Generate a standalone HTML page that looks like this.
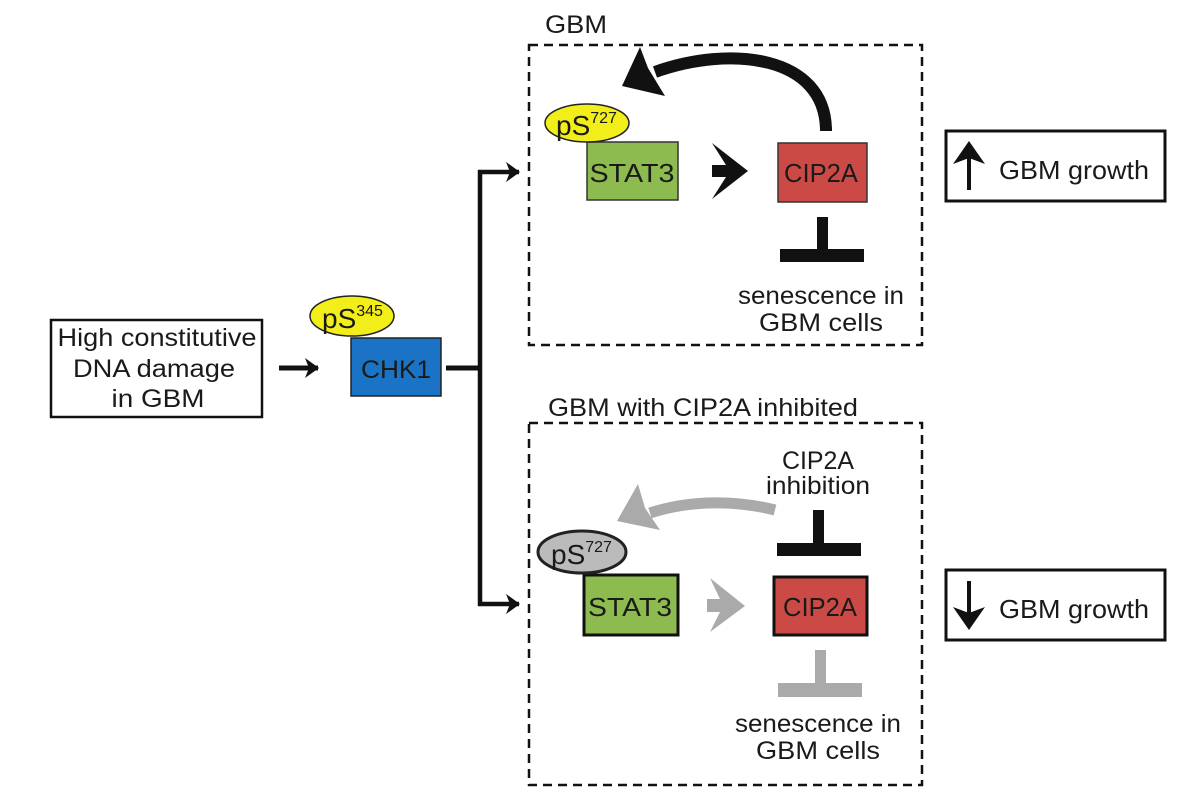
<!DOCTYPE html>
<html><head><style>body{margin:0;background:#fff}svg{display:block}text{font-family:"Liberation Sans",Arial,sans-serif;fill:#1a1a1a}</style></head>
<body>
<svg width="1200" height="805" viewBox="0 0 1200 805">
<defs>
<marker id="ah" markerUnits="userSpaceOnUse" viewBox="0 0 14 20" refX="13" refY="10" markerWidth="14" markerHeight="20" orient="auto"><path d="M0,0 L14,10 L0,20 L4,10 Z" fill="#111"/></marker>
</defs>
<rect x="529" y="45" width="393" height="300" fill="none" stroke="#111" stroke-width="2.5" stroke-dasharray="9,6"/>
<rect x="529" y="423" width="393" height="362" fill="none" stroke="#111" stroke-width="2.5" stroke-dasharray="9,6"/>
<text x="545" y="33" font-size="25" textLength="62" lengthAdjust="spacingAndGlyphs">GBM</text>
<text x="548" y="416" font-size="25" textLength="310" lengthAdjust="spacingAndGlyphs">GBM with CIP2A inhibited</text>
<rect x="51" y="320" width="211" height="97" fill="#fff" stroke="#111" stroke-width="2.5"/>
<text x="157" y="346" font-size="25" text-anchor="middle" textLength="199" lengthAdjust="spacingAndGlyphs">High constitutive</text>
<text x="154" y="377" font-size="25" text-anchor="middle" textLength="162" lengthAdjust="spacingAndGlyphs">DNA damage</text>
<text x="158" y="407" font-size="25" text-anchor="middle" textLength="93" lengthAdjust="spacingAndGlyphs">in GBM</text>
<line x1="279" y1="368" x2="318" y2="368" stroke="#111" stroke-width="5" marker-end="url(#ah)"/>
<rect x="351" y="338" width="90" height="58" fill="#1a73c4" stroke="#222" stroke-width="1.5"/>
<text x="396" y="378" font-size="25" text-anchor="middle" textLength="70" lengthAdjust="spacingAndGlyphs">CHK1</text>
<ellipse cx="352" cy="316" rx="42" ry="20" fill="#f2ee1a" stroke="#222" stroke-width="1.5"/>
<text x="322" y="328" font-size="28">pS<tspan font-size="16" dy="-12">345</tspan></text>
<line x1="446" y1="368" x2="482" y2="368" stroke="#111" stroke-width="5"/>
<line x1="480" y1="170" x2="480" y2="606" stroke="#111" stroke-width="4.5"/>
<line x1="478" y1="172" x2="519" y2="172" stroke="#111" stroke-width="4.5" marker-end="url(#ah)"/>
<line x1="478" y1="604" x2="519" y2="604" stroke="#111" stroke-width="4.5" marker-end="url(#ah)"/>
<path d="M826,131 C826,55 730,45 655,72" fill="none" stroke="#111" stroke-width="12"/>
<path d="M622,86 L640,47 L648,68 L665,96 Z" fill="#111"/>
<rect x="587" y="142" width="91" height="58" fill="#8dbb4f" stroke="#333" stroke-width="1.5"/>
<text x="632" y="182" font-size="26" text-anchor="middle" textLength="85" lengthAdjust="spacingAndGlyphs">STAT3</text>
<ellipse cx="587" cy="123" rx="42" ry="19" fill="#f2ee1a" stroke="#222" stroke-width="1.5"/>
<text x="556" y="135" font-size="28">pS<tspan font-size="16" dy="-12">727</tspan></text>
<path d="M712,165 L726,165 L712,143 L748,171 L712,199 L726,177 L712,177 Z" fill="#111"/>
<rect x="778" y="143" width="89" height="59" fill="#cc4a45" stroke="#333" stroke-width="1.5"/>
<text x="821" y="182" font-size="26" text-anchor="middle" textLength="74" lengthAdjust="spacingAndGlyphs">CIP2A</text>
<rect x="817" y="217" width="11" height="35" fill="#111"/>
<rect x="780" y="249" width="84" height="13" fill="#111"/>
<text x="821" y="304" font-size="25" text-anchor="middle" textLength="166" lengthAdjust="spacingAndGlyphs">senescence in</text>
<text x="821" y="331" font-size="25" text-anchor="middle" textLength="124" lengthAdjust="spacingAndGlyphs">GBM cells</text>
<rect x="946" y="131" width="219" height="70" fill="#fff" stroke="#111" stroke-width="3"/>
<line x1="969" y1="190" x2="969" y2="158" stroke="#111" stroke-width="4"/>
<path d="M969,141 L985,164 L969,158 L953,164 Z" fill="#111"/>
<text x="999" y="179" font-size="26" textLength="150" lengthAdjust="spacingAndGlyphs">GBM growth</text>
<rect x="946" y="570" width="219" height="70" fill="#fff" stroke="#111" stroke-width="3"/>
<line x1="969" y1="581" x2="969" y2="614" stroke="#111" stroke-width="4"/>
<path d="M969,630 L985,607 L969,613 L953,607 Z" fill="#111"/>
<text x="999" y="618" font-size="26" textLength="150" lengthAdjust="spacingAndGlyphs">GBM growth</text>
<text x="818" y="469" font-size="25" text-anchor="middle" textLength="72" lengthAdjust="spacingAndGlyphs">CIP2A</text>
<text x="818" y="494" font-size="25" text-anchor="middle" textLength="104" lengthAdjust="spacingAndGlyphs">inhibition</text>
<path d="M775,510 C735,500 690,500 650,513" fill="none" stroke="#aaa" stroke-width="11"/>
<path d="M617,521 L638,484 L645,508 L660,530 Z" fill="#aaa"/>
<rect x="813" y="510" width="11" height="36" fill="#111"/>
<rect x="777" y="543" width="84" height="13" fill="#111"/>
<rect x="584" y="575" width="94" height="60" fill="#8dbb4f" stroke="#111" stroke-width="3"/>
<text x="630" y="616" font-size="26" text-anchor="middle" textLength="84" lengthAdjust="spacingAndGlyphs">STAT3</text>
<ellipse cx="582" cy="552" rx="44" ry="21" fill="#bbb" stroke="#222" stroke-width="3"/>
<text x="551" y="564" font-size="28">pS<tspan font-size="16" dy="-12">727</tspan></text>
<path d="M707,599 L720,599 L710,578 L745,606 L710,632 L720,612 L707,612 Z" fill="#aaa"/>
<rect x="774" y="577" width="93" height="58" fill="#cc4a45" stroke="#111" stroke-width="3"/>
<text x="820" y="616" font-size="26" text-anchor="middle" textLength="74" lengthAdjust="spacingAndGlyphs">CIP2A</text>
<rect x="815" y="650" width="11" height="36" fill="#aaa"/>
<rect x="778" y="683" width="84" height="14" fill="#aaa"/>
<text x="818" y="732" font-size="25" text-anchor="middle" textLength="166" lengthAdjust="spacingAndGlyphs">senescence in</text>
<text x="818" y="759" font-size="25" text-anchor="middle" textLength="124" lengthAdjust="spacingAndGlyphs">GBM cells</text>
</svg>
</body></html>
